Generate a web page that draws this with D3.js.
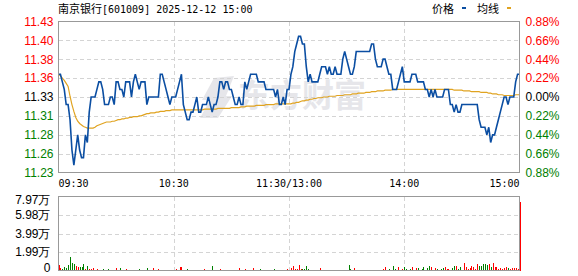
<!DOCTYPE html>
<html>
<head>
<meta charset="utf-8">
<script src="https://cdn.jsdelivr.net/npm/d3@7"></script>
<style>
    body { margin: 0; background: #fff; }
    svg { display: block; }
</style>
</head>
<body>
<svg width="578" height="276"></svg>
<script>
// minute prices 09:30 .. 11:30 | 13:01 .. 15:00 (241 points)
const prices = [
    11.36, 11.36, 11.35, 11.34, 11.32, 11.32, 11.30, 11.26, 11.24, 11.26,
    11.28, 11.26, 11.25, 11.25, 11.28, 11.27, 11.31, 11.33, 11.33, 11.33,
    11.34, 11.35, 11.35, 11.34, 11.32, 11.32, 11.32, 11.33, 11.33, 11.32,
    11.35, 11.35, 11.34, 11.34, 11.33, 11.35, 11.35, 11.35, 11.33, 11.35,
    11.36, 11.35, 11.34, 11.35, 11.35, 11.35, 11.32, 11.33, 11.33, 11.33,
    11.33, 11.33, 11.33, 11.36, 11.36, 11.35, 11.34, 11.33, 11.32, 11.33,
    11.33, 11.33, 11.34, 11.35, 11.36, 11.32, 11.31, 11.30, 11.30, 11.31,
    11.31, 11.32, 11.33, 11.31, 11.31, 11.32, 11.32, 11.32, 11.33, 11.32,
    11.31, 11.32, 11.32, 11.33, 11.35, 11.35, 11.34, 11.35, 11.35, 11.34,
    11.34, 11.33, 11.32, 11.32, 11.33, 11.32, 11.32, 11.35, 11.34, 11.35,
    11.36, 11.36, 11.36, 11.36, 11.35, 11.35, 11.35, 11.35, 11.34, 11.34,
    11.34, 11.34, 11.34, 11.33, 11.34, 11.32, 11.32, 11.33, 11.32, 11.34,
    11.34,
    11.36, 11.37, 11.39, 11.40, 11.41, 11.41, 11.40, 11.40, 11.37, 11.35,
    11.36, 11.35, 11.35, 11.35, 11.35, 11.36, 11.37, 11.37, 11.37, 11.36,
    11.37, 11.36, 11.36, 11.37, 11.36, 11.36, 11.36, 11.38, 11.39, 11.38,
    11.37, 11.36, 11.36, 11.37, 11.39, 11.39, 11.39, 11.39, 11.39, 11.39,
    11.39, 11.39, 11.40, 11.40, 11.38, 11.37, 11.37, 11.37, 11.38, 11.38,
    11.37, 11.36, 11.36, 11.34, 11.34, 11.34, 11.35, 11.36, 11.37, 11.35,
    11.35, 11.35, 11.35, 11.36, 11.36, 11.36, 11.35, 11.35, 11.35, 11.35,
    11.34, 11.34, 11.33, 11.34, 11.33, 11.34, 11.33, 11.33, 11.33, 11.33,
    11.34, 11.34, 11.34, 11.32, 11.32, 11.31, 11.32, 11.31, 11.31, 11.32,
    11.32, 11.32, 11.32, 11.32, 11.32, 11.32, 11.32, 11.32, 11.30, 11.29,
    11.29, 11.29, 11.28, 11.29, 11.27, 11.28, 11.28, 11.29, 11.30, 11.31,
    11.32, 11.33, 11.33, 11.32, 11.33, 11.33, 11.33, 11.35, 11.36, 11.36
];

// average price line
const avgPrices = [
    11.360, 11.358, 11.355, 11.352, 11.348, 11.344, 11.331, 11.320, 11.311, 11.303,
    11.298, 11.295, 11.293, 11.291, 11.290, 11.289, 11.289, 11.289, 11.289, 11.290,
    11.292, 11.293, 11.294, 11.295, 11.296, 11.297, 11.297, 11.297, 11.298, 11.298,
    11.299, 11.300, 11.300, 11.301, 11.301, 11.302, 11.302, 11.303, 11.303, 11.304,
    11.304, 11.304, 11.305, 11.305, 11.306, 11.307, 11.308, 11.308, 11.309, 11.309,
    11.309, 11.310, 11.310, 11.311, 11.311, 11.311, 11.312, 11.312, 11.312, 11.313,
    11.313, 11.313, 11.313, 11.313, 11.313, 11.313, 11.313, 11.313, 11.313, 11.313,
    11.313, 11.313, 11.313, 11.313, 11.313, 11.313, 11.314, 11.314, 11.314, 11.314,
    11.314, 11.314, 11.314, 11.315, 11.315, 11.315, 11.315, 11.315, 11.315, 11.315,
    11.316, 11.316, 11.316, 11.316, 11.316, 11.317, 11.317, 11.317, 11.318, 11.318,
    11.318, 11.318, 11.318, 11.319, 11.319, 11.319, 11.319, 11.319, 11.320, 11.320,
    11.320, 11.320, 11.320, 11.321, 11.321, 11.321, 11.321, 11.321, 11.321, 11.321,
    11.321,
    11.321, 11.322, 11.322, 11.323, 11.323, 11.324, 11.325, 11.325, 11.326, 11.326,
    11.327, 11.327, 11.328, 11.328, 11.329, 11.329, 11.329, 11.330, 11.330, 11.330,
    11.331, 11.331, 11.331, 11.331, 11.332, 11.332, 11.332, 11.332, 11.333, 11.333,
    11.333, 11.333, 11.334, 11.334, 11.334, 11.335, 11.335, 11.335, 11.335, 11.336,
    11.336, 11.336, 11.337, 11.337, 11.337, 11.338, 11.338, 11.338, 11.338, 11.339,
    11.339, 11.339, 11.339, 11.340, 11.340, 11.340, 11.340, 11.340, 11.340, 11.340,
    11.340, 11.340, 11.340, 11.340, 11.340, 11.340, 11.340, 11.340, 11.340, 11.340,
    11.340, 11.340, 11.340, 11.340, 11.340, 11.340, 11.340, 11.340, 11.340, 11.340,
    11.340, 11.340, 11.340, 11.340, 11.340, 11.339, 11.339, 11.339, 11.339, 11.339,
    11.338, 11.338, 11.338, 11.338, 11.337, 11.337, 11.337, 11.337, 11.337, 11.336,
    11.336, 11.336, 11.336, 11.335, 11.335, 11.334, 11.334, 11.334, 11.333, 11.333,
    11.333, 11.332, 11.332, 11.332, 11.332, 11.332, 11.332, 11.333, 11.333, 11.333
];

// minute volume in 万 shares
const volumes = [
    0.58, 0.22, 0.2, 0.43, 0.3, 0.58, 1.45, 0.8, 0.65, 0.5,
    0.43, 0.4, 0.43, 0.7, 0.2, 0.47, 0.2, 0.15, 0.25, 0.1,
    0.12, 0.1, 0.1, 0.11, 0.1, 0.1, 0.12, 0.1, 0.1, 0.1,
    0.22, 0.1, 0.25, 0.1, 0.1, 0.12, 0.1, 0.1, 0.1, 0.1,
    0.1, 0.1, 0.12, 0.1, 0.1, 0.1, 0.25, 0.1, 0.1, 0.22,
    0.1, 0.1, 0.12, 0.1, 0.1, 0.1, 0.1, 0.1, 0.1, 0.1,
    0.1, 0.12, 0.1, 0.4, 0.4, 0.1, 0.1, 0.12, 0.1, 0.1,
    0.1, 0.1, 0.1, 0.1, 0.1, 0.1, 0.12, 0.1, 0.1, 0.1,
    0.47, 0.1, 0.1, 0.1, 0.12, 0.1, 0.1, 0.1, 0.1, 0.1,
    0.1, 0.1, 0.1, 0.1, 0.25, 0.1, 0.1, 0.12, 0.1, 0.1,
    0.1, 0.22, 0.1, 0.1, 0.1, 0.12, 0.1, 0.1, 0.1, 0.1,
    0.1, 0.1, 0.12, 0.1, 0.1, 0.1, 0.1, 0.1, 0.1, 0.12,
    0.1,
    0.25, 0.47, 0.2, 0.12, 0.58, 0.2, 0.12, 0.12, 0.47, 0.12,
    0.1, 0.1, 0.1, 0.1, 0.1, 0.22, 0.1, 0.1, 0.1, 0.1,
    0.1, 0.1, 0.1, 0.1, 0.1, 0.1, 0.1, 0.1, 0.1, 0.1,
    0.58, 0.12, 0.1, 0.25, 0.1, 0.1, 0.1, 0.1, 0.1, 0.1,
    0.1, 0.1, 0.1, 0.1, 0.1, 0.1, 0.1, 0.1, 0.12, 0.36,
    0.1, 0.12, 0.1, 0.47, 0.12, 0.1, 0.36, 0.1, 0.12, 0.36,
    0.12, 0.1, 0.12, 0.36, 0.1, 0.22, 0.25, 0.1, 0.12, 0.4,
    0.1, 0.22, 0.47, 0.43, 0.1, 0.25, 0.2, 0.1, 0.12, 0.25,
    0.4, 0.12, 0.2, 0.1, 0.25, 0.47, 0.47, 0.2, 0.4, 0.1,
    0.8, 0.36, 0.12, 0.22, 0.47, 0.36, 0.2, 0.65, 0.47, 0.47,
    0.65, 0.69, 0.58, 0.69, 0.4, 0.8, 0.36, 0.43, 0.2, 0.22,
    0.12, 0.3, 0.36, 0.3, 0.2, 0.22, 0.3, 0.25, 0.2, 7.42
];

const prevClose = 11.33;
const maxPct = 0.0088;
const priceLabels = ['11.43', '11.40', '11.38', '11.36', '11.33', '11.31', '11.28', '11.26', '11.23'];
const pctLabels = ['0.88%', '0.66%', '0.44%', '0.22%', '0.00%', '0.22%', '0.44%', '0.66%', '0.88%'];
const volLabels = ['7.97万', '5.98万', '3.99万', '1.99万', '0'];
const volMax = 7.97;
const timeLabels = ['09:30', '10:30', '11:30/13:00', '14:00', '15:00'];
const timeIndex = [0, 60, 120, 180, 240];
const title = ['南京银行', '[601009] 2025-12-12 15:00'];

function drawIntraday() {
    const svg = d3.select('svg');
    const padding = { left: 58.5, right: 519.5 };
    const pTop = 21.5, pBottom = 172.5;
    const vTop = 196.5, vBottom = 270.5;
    const gridColor = '#d4d4d4';
    const frameColor = '#999';
    const up = '#ff0000', down = '#008000';

    const x = d3.scaleLinear().domain([0, 240]).range([padding.left, padding.right]);
    const y = d3.scaleLinear()
        .domain([prevClose * (1 - maxPct), prevClose * (1 + maxPct)])
        .range([pBottom, pTop]);
    const yV = d3.scaleLinear().domain([0, volMax]).range([vBottom, vTop]);

    const priceTicks = d3.range(9).map(k => y.domain()[1] - k * (y.domain()[1] - y.domain()[0]) / 8);
    const volTicks = d3.range(5).map(k => volMax - k * volMax / 4);
    const labelColor = i => i < 4 ? up : (i === 4 ? '#000' : down);

    // watermark
    svg.append('text')
        .attr('x', 238).attr('y', 107)
        .text('东方财富')
        .style('font-family', '"Noto Sans CJK SC"')
        .style('font-weight', 'bold')
        .style('font-size', '32px')
        .style('fill', '#e6e6ea');
    svg.append('path')
        .attr('d', 'M214,78 L234,76 L226,96 L232,96 L218,118 L200,118 L210,100 L202,100 Z')
        .style('fill', '#e6e6ea');

    // grid lines
    const grid = svg.append('g')
        .attr('stroke', gridColor)
        .attr('stroke-dasharray', '4,3')
        .attr('shape-rendering', 'crispEdges');
    grid.selectAll('.hp')
        .data(priceTicks.slice(1, 8))
        .join('line')
        .attr('x1', padding.left).attr('x2', padding.right)
        .attr('y1', d => Math.round(y(d)) + 0.5).attr('y2', d => Math.round(y(d)) + 0.5);
    grid.selectAll('.hv')
        .data(volTicks.slice(1, 4))
        .join('line')
        .attr('x1', padding.left).attr('x2', padding.right)
        .attr('y1', d => Math.round(yV(d)) + 0.5).attr('y2', d => Math.round(yV(d)) + 0.5);
    for (const [t, b] of [[pTop, pBottom], [vTop, vBottom]]) {
        grid.append('g').selectAll('line')
            .data(timeIndex.slice(1, 4))
            .join('line')
            .attr('x1', d => Math.round(x(d)) + 0.5).attr('x2', d => Math.round(x(d)) + 0.5)
            .attr('y1', t).attr('y2', b);
    }

    // volume bars
    const barColor = [];
    volumes.forEach((v, i) => {
        const prev = i === 0 ? prevClose : prices[i - 1];
        if (prices[i] > prev) barColor.push(up);
        else if (prices[i] < prev) barColor.push(down);
        else barColor.push(i === 0 ? up : barColor[i - 1]);
    });
    svg.append('g')
        .attr('shape-rendering', 'crispEdges')
        .selectAll('rect')
        .data(volumes)
        .join('rect')
        .attr('x', (d, i) => Math.round(x(i)) - 0.5)
        .attr('y', d => yV(d))
        .attr('width', 1)
        .attr('height', d => vBottom - yV(d))
        .attr('fill', (d, i) => barColor[i]);

    // average line
    svg.append('path')
        .datum(avgPrices)
        .attr('d', d3.line().x((d, i) => x(i)).y(d => y(d)))
        .attr('fill', 'none')
        .attr('stroke', '#e0a320')
        .attr('stroke-width', 1.2);

    // price line
    svg.append('path')
        .datum(prices)
        .attr('d', d3.line().x((d, i) => x(i)).y(d => y(d)))
        .attr('fill', 'none')
        .attr('stroke', '#0b4ea2')
        .attr('stroke-width', 1.6);

    // frames
    svg.append('rect')
        .attr('x', padding.left).attr('y', pTop)
        .attr('width', padding.right - padding.left).attr('height', pBottom - pTop)
        .attr('fill', 'none').attr('stroke', frameColor)
        .attr('shape-rendering', 'crispEdges');
    svg.append('rect')
        .attr('x', padding.left).attr('y', vTop)
        .attr('width', padding.right - padding.left).attr('height', vBottom - vTop)
        .attr('fill', 'none').attr('stroke', frameColor)
        .attr('shape-rendering', 'crispEdges');

    // left price axis
    const leftAxis = svg.append('g')
        .attr('transform', `translate(${padding.left - 2}, 0)`)
        .call(d3.axisLeft(y).tickValues(priceTicks).tickSize(0).tickFormat((d, i) => priceLabels[i]));
    leftAxis.select('.domain').remove();
    leftAxis.selectAll('text')
        .style('font-family', '"Liberation Sans", Arial')
        .style('font-size', '12px')
        .attr('fill', (d, i) => labelColor(i));

    // right percent axis
    const rightAxis = svg.append('g')
        .attr('transform', `translate(${padding.right + 3}, 0)`)
        .call(d3.axisRight(y).tickValues(priceTicks).tickSize(0).tickFormat((d, i) => pctLabels[i]));
    rightAxis.select('.domain').remove();
    rightAxis.selectAll('text')
        .style('font-family', '"Liberation Sans", Arial')
        .style('font-size', '12px')
        .attr('fill', (d, i) => labelColor(i));

    // volume axis
    const volAxis = svg.append('g')
        .attr('transform', `translate(${padding.left - 5}, 0)`)
        .call(d3.axisLeft(yV).tickValues(volTicks).tickSize(0).tickFormat((d, i) => volLabels[i]));
    volAxis.select('.domain').remove();
    volAxis.selectAll('text')
        .style('font-family', '"Liberation Sans", Arial')
        .style('font-size', '12px')
        .attr('fill', '#000')
        .attr('dy', (d, i) => i === 0 ? '0.6em' : (i === volLabels.length - 1 ? '0.1em' : '0.32em'));

    // time labels
    svg.selectAll('.time')
        .data(timeLabels)
        .join('text')
        .attr('class', 'time')
        .attr('x', (d, i) => x(timeIndex[i]))
        .attr('y', 187)
        .attr('text-anchor', (d, i) => i === 0 ? 'start' : (i === timeLabels.length - 1 ? 'end' : 'middle'))
        .text(d => d)
        .style('font-family', '"DejaVu Sans Mono", monospace')
        .style('font-size', '10px')
        .style('fill', '#000');

    // title
    const t = svg.append('text').attr('x', 58).attr('y', 13).style('fill', '#000');
    t.append('tspan').text(title[0])
        .style('font-family', '"Noto Sans CJK SC"').style('font-size', '11px');
    t.append('tspan').text(title[1])
        .style('font-family', '"DejaVu Sans Mono", monospace').style('font-size', '10px');

    // legend
    const legend = [
        { name: '价格', color: '#0b4ea2', x: 432 },
        { name: '均线', color: '#e0a320', x: 477 }
    ];
    legend.forEach(l => {
        svg.append('text')
            .attr('x', l.x).attr('y', 13)
            .text(l.name)
            .style('font-family', '"Noto Sans CJK SC"')
            .style('font-size', '11px')
            .style('fill', '#000');
        svg.append('rect')
            .attr('x', l.x + 30).attr('y', 7)
            .attr('width', 4).attr('height', 2)
            .attr('fill', l.color);
    });
}

window.addEventListener('load', drawIntraday);
</script>
</body>
</html>
